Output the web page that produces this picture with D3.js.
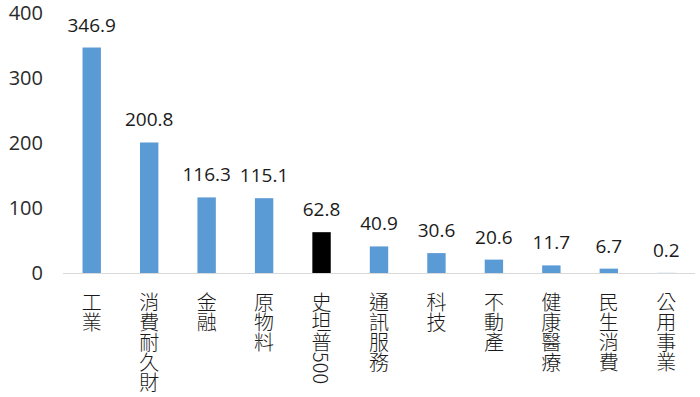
<!DOCTYPE html>
<html><head><meta charset="utf-8">
<script src="https://cdn.jsdelivr.net/npm/d3@7"></script>
<style>body{margin:0;background:#fff}</style>
</head><body>
<svg id="c" width="700" height="397"></svg>
<script>
const categories = ["工業","消費耐久財","金融","原物料","史坦普500","通訊服務","科技","不動產","健康醫療","民生消費","公用事業"];
const values = [346.9,200.8,116.3,115.1,62.8,40.9,30.6,20.6,11.7,6.7,0.2];
const highlight = ["史坦普500"];
const yTicks = [0,100,200,300,400];

const svg = d3.select("#c");
const font = "'Noto Sans CJK TC','Noto Sans',sans-serif";
const numFont = "'Open Sans','Noto Sans',sans-serif";
const x = d3.scaleBand().domain(categories).range([63,695]).paddingInner(0.68).paddingOuter(0.34);
const y = d3.scaleLinear().domain([0,400]).range([273,13]);

// y axis labels
svg.append("g").selectAll("text").data(yTicks).join("text")
  .attr("x",43).attr("y",d=>y(d)+7)
  .attr("text-anchor","end").attr("font-family",numFont).attr("font-size",20)
  .attr("fill","#2b2b2b").text(d=>d);

// bars
svg.append("g").selectAll("rect").data(categories).join("rect")
  .attr("x",d=>x(d)).attr("width",x.bandwidth())
  .attr("y",(d,i)=>y(values[i])).attr("height",(d,i)=>y(0)-y(values[i]))
  .attr("fill",d=>highlight.includes(d)?"#000":"#5B9BD5");

// baseline
svg.append("line").attr("x1",63).attr("x2",695).attr("y1",y(0)+0.5).attr("y2",y(0)+0.5)
  .attr("stroke","#D9D9D9").attr("stroke-width",1);

// value labels
svg.append("g").selectAll("text").data(categories).join("text")
  .attr("x",d=>x(d)+x.bandwidth()/2).attr("y",(d,i)=>y(values[i])-16)
  .attr("text-anchor","middle").attr("font-family",numFont).attr("font-size",19)
  .attr("fill","#1a1a1a").text((d,i)=>values[i].toFixed(1));

// category labels vertical
svg.append("g").selectAll("text").data(categories).join("text")
  .attr("x",d=>x(d)+x.bandwidth()/2).attr("y",292)
  .style("writing-mode","vertical-rl")
  .attr("font-family",font).attr("font-size",20).attr("font-weight",300)
  .attr("fill","#1a1a1a").text(d=>d);
</script>
</body></html>
